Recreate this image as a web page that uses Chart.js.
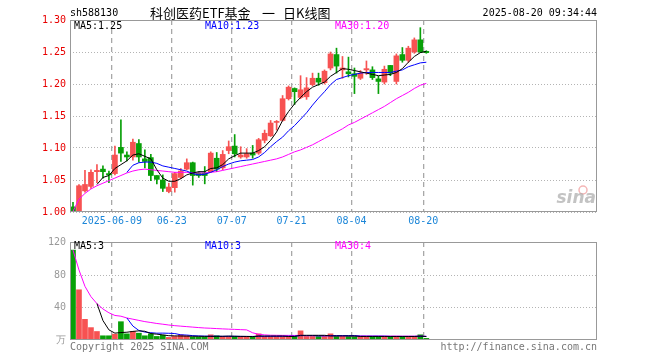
<!DOCTYPE html>
<html>
<head>
<meta charset="utf-8">
<script src="https://cdn.jsdelivr.net/npm/chart.js@4.4.1/dist/chart.umd.min.js"></script>
<style>
  body { margin: 0; background: #fff; }
  #wrap { position: relative; width: 660px; height: 360px; }
  #price { position: absolute; left: 0; top: 0; }
  #vol { position: absolute; left: 0; top: 232px; }
</style>
</head>
<body>
<div id="wrap">
  <canvas id="price" width="660" height="232" style="width:660px;height:232px"></canvas>
  <canvas id="vol" width="660" height="128" style="width:660px;height:128px"></canvas>
</div>
<script>
// trading days shown (the x axis leaves room for 88 slots)
const dates = ['05-28','05-29','05-30','06-03','06-04','06-05','06-06','06-09','06-10','06-11',
  '06-12','06-13','06-16','06-17','06-18','06-19','06-20','06-23','06-24','06-25',
  '06-26','06-27','06-30','07-01','07-02','07-03','07-04','07-07','07-08','07-09',
  '07-10','07-11','07-14','07-15','07-16','07-17','07-18','07-21','07-22','07-23',
  '07-24','07-25','07-28','07-29','07-30','07-31','08-01','08-04','08-05','08-06',
  '08-07','08-08','08-11','08-12','08-13','08-14','08-15','08-18','08-19','08-20'];
const tickDates = ['06-09','06-23','07-07','07-21','08-04','08-20'];
const tickText = ['2025-06-09','06-23','07-07','07-21','08-04','08-20'];

const open = [1.008,1.000,1.033,1.040,1.063,1.067,1.060,1.060,1.101,1.089,
  1.086,1.107,1.083,1.085,1.057,1.050,1.032,1.038,1.054,1.067,
  1.077,1.061,1.061,1.063,1.084,1.069,1.096,1.103,1.086,1.086,
  1.092,1.092,1.112,1.119,1.140,1.143,1.177,1.193,1.179,1.180,
  1.199,1.209,1.202,1.225,1.246,1.222,1.219,1.216,1.209,1.222,
  1.222,1.208,1.203,1.229,1.204,1.246,1.237,1.250,1.269,1.251];
const close = [1.001,1.041,1.043,1.062,1.065,1.063,1.058,1.089,1.092,1.086,
  1.109,1.086,1.079,1.057,1.051,1.037,1.039,1.060,1.064,1.077,
  1.057,1.057,1.057,1.092,1.067,1.090,1.102,1.091,1.089,1.091,
  1.089,1.113,1.123,1.139,1.141,1.177,1.195,1.188,1.191,1.194,
  1.209,1.203,1.220,1.247,1.228,1.225,1.216,1.212,1.217,1.224,
  1.210,1.204,1.223,1.217,1.244,1.237,1.256,1.269,1.250,1.249];
const high = [1.015,1.043,1.065,1.066,1.074,1.072,1.064,1.103,1.144,1.094,
  1.114,1.113,1.097,1.090,1.057,1.058,1.045,1.062,1.068,1.083,
  1.078,1.063,1.071,1.094,1.093,1.096,1.111,1.121,1.102,1.099,
  1.104,1.115,1.128,1.143,1.143,1.182,1.197,1.194,1.213,1.210,
  1.217,1.217,1.222,1.250,1.256,1.243,1.242,1.225,1.221,1.236,
  1.227,1.212,1.228,1.229,1.247,1.257,1.259,1.272,1.288,1.252];
const low = [1.000,1.000,1.031,1.037,1.046,1.053,1.046,1.058,1.079,1.080,
  1.081,1.078,1.069,1.049,1.044,1.032,1.030,1.031,1.052,1.066,
  1.042,1.054,1.044,1.062,1.063,1.066,1.091,1.086,1.084,1.084,
  1.084,1.090,1.108,1.118,1.128,1.142,1.175,1.168,1.177,1.176,
  1.197,1.198,1.200,1.222,1.217,1.209,1.211,1.185,1.207,1.215,
  1.207,1.185,1.200,1.213,1.200,1.234,1.234,1.248,1.249,1.248];

const ma5 = [null,null,null,null,1.043,1.054,1.057,1.068,1.074,1.080,
  1.089,1.091,1.087,1.083,1.066,1.053,1.048,1.048,1.052,1.058,
  1.061,1.063,1.063,1.068,1.069,1.074,1.083,1.088,1.092,1.092,
  1.092,1.096,1.102,1.112,1.125,1.143,1.157,1.169,1.179,1.188,
  1.195,1.199,1.203,1.212,1.218,1.224,1.223,1.221,1.219,1.217,
  1.215,1.213,1.214,1.215,1.218,1.224,1.234,1.243,1.249,1.251];
const ma10 = [null,null,null,null,null,null,null,null,null,1.062,
  1.073,1.077,1.078,1.078,1.076,1.072,1.070,1.068,1.066,1.064,
  1.060,1.058,1.059,1.062,1.066,1.071,1.075,1.078,1.080,1.081,
  1.082,1.086,1.093,1.102,1.110,1.117,1.127,1.135,1.145,1.155,
  1.167,1.178,1.188,1.199,1.207,1.210,1.213,1.215,1.217,1.218,
  1.218,1.218,1.218,1.218,1.220,1.222,1.227,1.230,1.233,1.234];
const ma30 = [1.001,1.020,1.029,1.036,1.041,1.045,1.049,1.053,1.057,1.061,
  1.064,1.066,1.067,1.066,1.065,1.064,1.063,1.062,1.062,1.062,
  1.061,1.061,1.061,1.062,1.063,1.065,1.067,1.069,1.071,1.073,
  1.075,1.077,1.079,1.081,1.083,1.086,1.090,1.094,1.097,1.101,
  1.105,1.110,1.115,1.120,1.125,1.130,1.136,1.140,1.145,1.150,
  1.155,1.160,1.165,1.171,1.177,1.182,1.187,1.193,1.198,1.201];

// volume, 万
const volume = [111,62,25.5,15.3,10.5,5.2,5.2,7.2,22.6,7.6,
  10.5,8.4,5.2,7.6,4.4,6.0,3.2,4.4,6.4,5.2,
  3.6,3.6,3.6,6.4,5.2,4.4,4.4,4.4,4.4,4.4,
  3.6,7.6,4.4,4.4,4.4,4.4,4.4,4.4,11.3,4.4,
  4.4,4.4,4.4,7.6,4.4,4.4,4.4,4.4,4.4,4.4,
  4.4,4.4,4.4,4.4,4.4,4.4,4.4,4.4,6.4,2.0];
const volMa5 = [null,null,null,null,45,24,12.5,8.5,9.2,9.6,
  10.6,11.3,10.8,7.9,7.2,6.3,5.3,5.1,4.9,4.8,
  4.6,4.6,4.5,4.5,4.5,4.6,4.8,4.6,4.5,4.4,
  4.2,4.9,4.9,4.9,4.9,4.9,4.4,4.4,5.8,5.8,
  5.8,5.8,5.8,5.0,5.0,5.0,5.0,5.0,4.4,4.4,
  4.4,4.4,4.4,4.4,4.4,4.4,4.4,4.4,4.8,4.3];
const volMa10 = [null,null,null,null,null,null,null,null,null,27.2,
  17.2,11.8,9.8,9.0,8.4,8.5,8.3,8.0,6.4,6.1,
  5.4,5.0,4.8,4.7,4.7,4.5,4.6,4.6,4.4,4.4,
  4.4,4.6,4.6,4.6,4.6,4.6,4.7,4.7,5.4,5.4,
  5.4,5.1,5.1,5.4,5.4,5.4,5.4,5.4,4.7,4.7,
  4.7,4.7,4.7,4.4,4.4,4.4,4.4,4.4,4.6,4.4];
const volMa30 = [111,86.5,66.2,53.5,44.9,38.3,33.6,30.3,29.4,27.2,
  25.7,24.2,22.7,21.6,20.4,19.5,18.5,17.7,17.1,16.5,
  15.9,15.3,14.8,14.5,14.1,13.7,13.4,13.1,12.8,12.5,
  8.9,7.0,6.3,5.9,5.8,5.7,5.7,5.6,5.8,5.4,
  5.4,5.3,5.3,5.3,5.2,5.1,5.1,5.1,5.0,4.9,
  4.9,4.9,4.8,4.8,4.8,4.7,4.7,4.7,4.7,4.6];

const SLOTS = 88;
const RED = '#f75252';
const GREEN = '#08a008';
const MONO = '"DejaVu Sans Mono", monospace';
const CJK = '"Noto Sans CJK SC", sans-serif';

const labels = [];
for (let i = 0; i < SLOTS; i++) labels.push(i < dates.length ? dates[i] : '');
const gridIdx = new Set(tickDates.map(d => dates.indexOf(d)));
const candleColor = open.map((o, i) => close[i] >= o ? RED : GREEN);

function lineSet(data, color) {
  return { type: 'line', data: data, borderColor: color, borderWidth: 1, pointRadius: 0,
    tension: 0, fill: false, spanGaps: false, order: 0 };
}

function xAxis(showLabels) {
  return {
    type: 'category', offset: true,
    grid: { offset: true, drawTicks: false, lineWidth: 1.3,
      color: c => gridIdx.has(c.index) ? '#a8a8a8' : 'rgba(0,0,0,0)' },
    border: { display: false, dash: [5, 4] },
    ticks: { display: showLabels, autoSkip: false, maxRotation: 0, padding: 3, labelOffset: -3,
      color: '#1c86d8', font: { family: MONO, size: 10 },
      callback: (v, i) => { const k = tickDates.indexOf(labels[i]); return k >= 0 ? tickText[k] : ''; } },
    afterFit: s => { s.height = 20; }
  };
}

function text(ctx, str, x, y, color, font, align) {
  ctx.fillStyle = color;
  ctx.font = font;
  ctx.textAlign = align || 'left';
  ctx.textBaseline = 'middle';
  ctx.fillText(str, x, y);
}

function frame(chart) {
  const a = chart.chartArea, ctx = chart.ctx;
  ctx.save();
  ctx.strokeStyle = '#999';
  ctx.lineWidth = 1;
  ctx.strokeRect(a.left + 0.5, a.top + 0.5, a.right - a.left - 1, a.bottom - a.top - 1);
  ctx.restore();
}

const priceDecor = {
  id: 'priceDecor',
  afterDraw(chart) {
    const ctx = chart.ctx;
    frame(chart);
    ctx.save();
    const f = '10px ' + MONO;
    text(ctx, 'sh588130', 70, 13, '#000', f);
    text(ctx, '科创医药ETF基金', 150, 13, '#000', '13px ' + CJK);
    text(ctx, '一', 262, 13, '#000', '13px ' + CJK);
    text(ctx, '日K线图', 283, 13, '#000', '13px ' + CJK);
    text(ctx, '2025-08-20 09:34:44', 597, 13, '#000', f, 'right');
    text(ctx, 'MA5:1.25', 74, 26, '#000', f);
    text(ctx, 'MA10:1.23', 205, 26, '#0000ff', f);
    text(ctx, 'MA30:1.20', 335, 26, '#ff00ff', f);
    // sina watermark
    ctx.strokeStyle = 'rgba(235,120,120,0.55)';
    ctx.lineWidth = 1.5;
    ctx.beginPath();
    ctx.arc(583, 190, 4, 0, Math.PI * 2);
    ctx.stroke();
    text(ctx, 'sina', 596, 199, 'rgba(170,170,170,0.7)', 'italic bold 17px "DejaVu Sans", sans-serif', 'right');
    ctx.restore();
  }
};

const volDecor = {
  id: 'volDecor',
  afterDraw(chart) {
    const ctx = chart.ctx;
    frame(chart);
    ctx.save();
    const f = '10px ' + MONO;
    text(ctx, 'MA5:3', 74, 14, '#000', f);
    text(ctx, 'MA10:3', 205, 14, '#0000ff', f);
    text(ctx, 'MA30:4', 335, 14, '#ff00ff', f);
    text(ctx, 'Copyright 2025 SINA.COM', 70, 115, '#777', f);
    text(ctx, 'http://finance.sina.com.cn', 597, 115, '#777', f, 'right');
    ctx.restore();
  }
};

new Chart(document.getElementById('price'), {
  type: 'bar',
  data: {
    labels: labels,
    datasets: [
      { type: 'bar', data: low.map((l, i) => [l, high[i]]), backgroundColor: candleColor,
        barThickness: 1, grouped: false, order: 2 },
      { type: 'bar', data: open.map((o, i) => [o, close[i]]), backgroundColor: candleColor,
        barThickness: 5, grouped: false, minBarLength: 1, order: 1 },
      lineSet(ma5, '#000000'),
      lineSet(ma10, '#0000ff'),
      lineSet(ma30, '#ff00ff')
    ]
  },
  options: {
    responsive: false, animation: false, events: [],
    layout: { padding: { left: 0, right: 63, top: 20, bottom: 0 } },
    plugins: { legend: { display: false }, tooltip: { enabled: false } },
    scales: {
      x: xAxis(true),
      y: {
        min: 1.0, max: 1.3,
        ticks: { stepSize: 0.05, padding: 4, color: '#e80000', font: { family: MONO, size: 10 },
          callback: v => v.toFixed(2) },
        grid: { color: '#b4b4b4', drawTicks: false },
        border: { display: false, dash: [1, 2] },
        afterFit: s => { s.width = 70; }
      }
    }
  },
  plugins: [priceDecor]
});

new Chart(document.getElementById('vol'), {
  type: 'bar',
  data: {
    labels: labels,
    datasets: [
      { type: 'bar', data: volume, backgroundColor: candleColor, barThickness: 5, grouped: false, order: 1 },
      lineSet(volMa5, '#000000'),
      lineSet(volMa10, '#0000ff'),
      lineSet(volMa30, '#ff00ff')
    ]
  },
  options: {
    responsive: false, animation: false, events: [],
    layout: { padding: { left: 0, right: 63, top: 8, bottom: 0 } },
    plugins: { legend: { display: false }, tooltip: { enabled: false } },
    scales: {
      x: xAxis(false),
      y: {
        min: 0, max: 121,
        afterBuildTicks: s => { s.ticks = [0, 40, 80, 120].map(v => ({ value: v })); },
        ticks: { padding: 4, color: '#999', font: { family: MONO, size: 10 },
          callback: v => v === 0 ? '万' : String(v) },
        grid: { color: c => (c.tick && (c.tick.value === 40 || c.tick.value === 80)) ? '#b4b4b4' : 'rgba(0,0,0,0)', drawTicks: false },
        border: { display: false, dash: [1, 2] },
        afterFit: s => { s.width = 70; }
      }
    }
  },
  plugins: [volDecor]
});
</script>
</body>
</html>
